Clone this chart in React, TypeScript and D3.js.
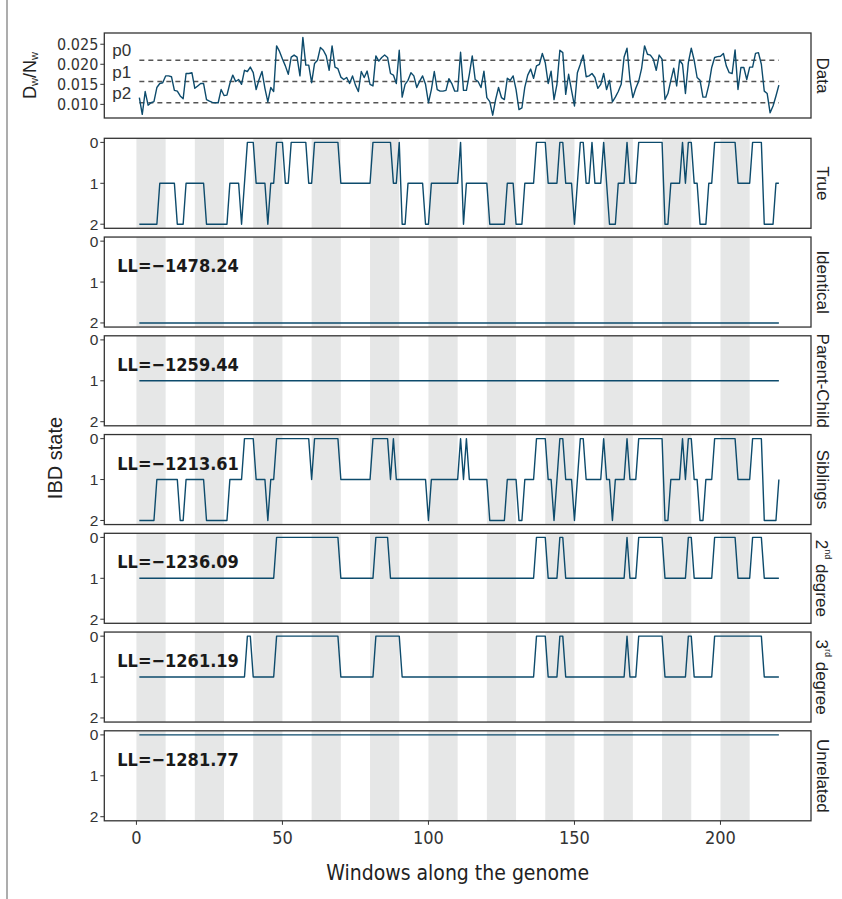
import React from "react";
import * as d3 from "d3";

// ---------- data ----------
const dataValues: number[] = [
  0.0117, 0.0075, 0.0132, 0.0098, 0.0104, 0.0107, 0.0142, 0.0152, 0.0154, 0.0171,
  0.0171, 0.0169, 0.0135, 0.0133, 0.0121, 0.0114, 0.0177, 0.0177, 0.0179, 0.014,
  0.0146, 0.0152, 0.0152, 0.0112, 0.0108, 0.0105, 0.0104, 0.0104, 0.0137, 0.0122,
  0.0123, 0.0152, 0.0173, 0.0157, 0.0162, 0.015, 0.0185, 0.0182, 0.0193, 0.0179,
  0.0137, 0.0162, 0.0182, 0.014, 0.0106, 0.0142, 0.0132, 0.0246, 0.0232, 0.0213,
  0.0196, 0.0175, 0.0218, 0.0223, 0.0218, 0.0171, 0.0267, 0.0198, 0.0198, 0.0154,
  0.0202, 0.021, 0.0242, 0.0235, 0.0221, 0.0185, 0.0246, 0.0193, 0.0189, 0.0168,
  0.0162, 0.0167, 0.0152, 0.0171, 0.0148, 0.0132, 0.0182, 0.0167, 0.0183, 0.015,
  0.0146, 0.0221, 0.0208, 0.0217, 0.0223, 0.0217, 0.0177, 0.0173, 0.0152, 0.0235,
  0.0118, 0.015, 0.016, 0.0179, 0.0171, 0.0142, 0.0158, 0.0171, 0.015, 0.0104,
  0.0137, 0.0182, 0.0137, 0.0133, 0.0133, 0.0135, 0.0164, 0.0152, 0.0133, 0.0133,
  0.023, 0.0135, 0.0135, 0.0175, 0.0221, 0.0162, 0.0157, 0.0142, 0.0183, 0.0117,
  0.0107, 0.0073, 0.0112, 0.0142, 0.0117, 0.0112, 0.0165, 0.016, 0.0171, 0.0137,
  0.0087, 0.0091, 0.0143, 0.0173, 0.0188, 0.0165, 0.0196, 0.02, 0.0227, 0.0204,
  0.0152, 0.0183, 0.0112, 0.015, 0.0235, 0.0229, 0.0125, 0.0175, 0.0135, 0.0096,
  0.0179, 0.02, 0.0223, 0.0169, 0.0171, 0.0177, 0.0167, 0.014, 0.015, 0.0177,
  0.0137, 0.016, 0.0106, 0.0118, 0.0132, 0.015, 0.0218, 0.024, 0.0162, 0.0117,
  0.014, 0.0158, 0.019, 0.0246, 0.0225, 0.0223, 0.0213, 0.0185, 0.0223, 0.0213,
  0.0112, 0.0127, 0.016, 0.019, 0.0146, 0.021, 0.02, 0.0127, 0.0204, 0.024,
  0.021, 0.0167, 0.016, 0.0118, 0.0118, 0.0148, 0.0192, 0.0217, 0.0219, 0.022,
  0.0227, 0.0196, 0.0179, 0.0177, 0.0236, 0.0137, 0.0192, 0.0192, 0.0162, 0.0193,
  0.0193, 0.0227, 0.0229, 0.02, 0.0133, 0.0127, 0.0079, 0.0096, 0.0121, 0.0148,
];

const pLevels = [0.021, 0.0157, 0.0104];
const pLabels = ["p0", "p1", "p2"];
const dataTicks = [0.01, 0.015, 0.02, 0.025];

// IBD states per window (1..220), groups of 10
const trueStates =
  "2222222111 1112221111 1112222222 2111121000 1111211000 1100000011 0000000001 1111111111 0000000110 2211111122 1111111111 0211111111 2222221112 2211110000 1111001112 1001101110 1222111011 1000000000 2211110100 1122211000 0000011111 0000222211";
const identicalStates = "2".repeat(220);
const parentChildStates = "1".repeat(220);
const siblingStates =
  "2222221111 1111221111 1112222222 2111110000 1111211000 0000000001 0000000001 1111111111 0000001011 1111111112 1111111111 0101111111 2222221111 2211110000 1121001112 1001111110 1121111011 1000000000 2211110100 1122111000 0000011111 0000222221";
const secondDegreeStates =
  "1111111111 1111111111 1111111111 1111111111 1111111000 0000000000 0000000001 1111111111 1000001111 1111111111 1111111111 1111111111 1111111111 1111110000 1111001111 1111111111 1111111011 1000000000 1111111100 1111111000 0000011111 0000111111";
const thirdDegreeStates =
  "1111111111 1111111111 1111111111 1111111001 1111111000 0000000000 0000000001 1111111111 1000000000 1111111111 1111111111 1111111111 1111111111 1111110000 1111001111 1111111111 1111111011 1000000000 1111111100 1111111000 0000000000 0000111111";
const unrelatedStates = "0".repeat(220);

const panelNames = ["True", "Identical", "Parent-Child", "Siblings", "2nd degree", "3rd degree", "Unrelated"];
const panelStates = [trueStates, identicalStates, parentChildStates, siblingStates, secondDegreeStates, thirdDegreeStates, unrelatedStates];
const llValues: (number | null)[] = [null, -1478.24, -1259.44, -1213.61, -1236.09, -1261.19, -1281.77];

const bandStarts = [0, 20, 40, 60, 80, 100, 120, 140, 160, 180, 200];
const bandWidth = 10;
const xTicks = [0, 50, 100, 150, 200];
const stateTicks = [0, 1, 2];

// ---------- layout ----------
const W = 842;
const H = 899;
const LEFT = 104.3;
const RIGHT = 811;
const DATA_TOP = 33;
const DATA_BOTTOM = 118;
const IBD_TOP0 = 138.3;
const IBD_STEP = 98.75;
const IBD_H = 90;
const STRIP_X = 822;

const LINE_COLOR = "#0d4b6c";
const BAND_COLOR = "#e6e7e7";
const BORDER = "#333333";
const NARROW = "'Liberation Sans Narrow', 'DejaVu Sans Condensed', 'Liberation Sans', sans-serif";
const SANS = "'Liberation Sans', Arial, sans-serif";

function parseStates(s: string): number[] {
  return s.replace(/\s+/g, "").split("").map((c) => +c);
}

function fmtLL(v: number): string {
  return "LL=\u2212" + Math.abs(v).toFixed(2);
}

export default function App() {
  const x = d3.scaleLinear().domain([-11, 231]).range([LEFT, RIGHT]);
  const yData = d3.scaleLinear().domain([0.0066, 0.0278]).range([DATA_BOTTOM, DATA_TOP]);

  const dataLine = d3
    .line<number>()
    .x((_, i) => x(i + 1))
    .y((d) => yData(d))(dataValues) as string;

  const lastBottom = IBD_TOP0 + (panelNames.length - 1) * IBD_STEP + IBD_H;

  const strip = (name: string, cy: number, key: string) => {
    const m = name.match(/^(\d)(nd|rd) (.*)$/);
    return (
      <text
        key={key}
        transform={`translate(${STRIP_X},${cy}) rotate(90)`}
        textAnchor="middle"
        dominantBaseline="central"
        fontFamily={SANS}
        fontSize={17}
        fill="#222"
      >
        {m ? (
          <>
            <tspan>{m[1]}</tspan>
            <tspan fontSize={9} dy={-6}>{m[2]}</tspan>
            <tspan dy={6}>{" " + m[3]}</tspan>
          </>
        ) : (
          name
        )}
      </text>
    );
  };

  return (
    <svg
      width={W}
      height={H}
      style={{ position: "absolute", left: 0, top: 0, background: "#fff" }}
      xmlns="http://www.w3.org/2000/svg"
    >
      <rect x={0} y={0} width={W} height={H} fill="#fff" />
      <line x1={7} x2={7} y1={0} y2={H} stroke="#8a8a8a" strokeWidth={1.4} />

      {/* Data panel */}
      <g>
        <rect x={LEFT} y={DATA_TOP} width={RIGHT - LEFT} height={DATA_BOTTOM - DATA_TOP} fill="#fff" />
        {pLevels.map((p, i) => (
          <g key={"p" + i}>
            <line
              x1={x(1)}
              x2={x(220)}
              y1={yData(p)}
              y2={yData(p)}
              stroke="#555"
              strokeWidth={1.5}
              strokeDasharray="5,4"
            />
            <text x={LEFT + 8} y={yData(p) - 4} fontFamily={SANS} fontSize={17} fill="#333">
              {pLabels[i]}
            </text>
          </g>
        ))}
        <path d={dataLine} fill="none" stroke={LINE_COLOR} strokeWidth={1.4} strokeLinejoin="round" />
        <rect
          x={LEFT}
          y={DATA_TOP}
          width={RIGHT - LEFT}
          height={DATA_BOTTOM - DATA_TOP}
          fill="none"
          stroke={BORDER}
          strokeWidth={1.3}
        />
        {dataTicks.map((t) => (
          <g key={"dt" + t}>
            <line x1={LEFT - 4} x2={LEFT} y1={yData(t)} y2={yData(t)} stroke="#333" strokeWidth={1} />
            <text
              x={LEFT - 6}
              y={yData(t)}
              textAnchor="end"
              dominantBaseline="central"
              fontFamily={NARROW}
              fontSize={16}
              fill="#333"
            >
              {t.toFixed(3)}
            </text>
          </g>
        ))}
        <text
          transform={`translate(30,${(DATA_TOP + DATA_BOTTOM) / 2}) rotate(-90)`}
          textAnchor="middle"
          dominantBaseline="central"
          fontFamily={SANS}
          fontSize={18}
          fill="#222"
        >
          <tspan>D</tspan>
          <tspan fontSize={11} dy={4}>w</tspan>
          <tspan dy={-4}>/N</tspan>
          <tspan fontSize={11} dy={4}>w</tspan>
        </text>
        {strip("Data", (DATA_TOP + DATA_BOTTOM) / 2, "s-data")}
      </g>

      {/* IBD panels */}
      {panelNames.map((name, pi) => {
        const top = IBD_TOP0 + pi * IBD_STEP;
        const y = d3.scaleLinear().domain([-0.1, 2.1]).range([top, top + IBD_H]);
        const states = parseStates(panelStates[pi]);
        const path = d3
          .line<number>()
          .x((_, i) => x(i + 1))
          .y((d) => y(d))(states) as string;
        const ll = llValues[pi];
        return (
          <g key={name}>
            <rect x={LEFT} y={top} width={RIGHT - LEFT} height={IBD_H} fill="#fff" />
            {bandStarts.map((b) => (
              <rect
                key={"b" + b}
                x={x(b)}
                y={top}
                width={x(b + bandWidth) - x(b)}
                height={IBD_H}
                fill={BAND_COLOR}
              />
            ))}
            <path d={path} fill="none" stroke={LINE_COLOR} strokeWidth={1.4} strokeLinejoin="round" />
            {ll !== null && (
              <text
                x={LEFT + 13}
                y={y(0.6)}
                dominantBaseline="central"
                fontFamily={NARROW}
                fontWeight="bold"
                fontSize={18}
                fill="#1a1a1a"
              >
                {fmtLL(ll)}
              </text>
            )}
            <rect x={LEFT} y={top} width={RIGHT - LEFT} height={IBD_H} fill="none" stroke={BORDER} strokeWidth={1.3} />
            {stateTicks.map((t) => (
              <g key={"st" + t}>
                <line x1={LEFT - 4} x2={LEFT} y1={y(t)} y2={y(t)} stroke="#333" strokeWidth={1} />
                <text
                  x={LEFT - 6}
                  y={y(t)}
                  textAnchor="end"
                  dominantBaseline="central"
                  fontFamily={SANS}
                  fontSize={15.5}
                  fill="#333"
                >
                  {t}
                </text>
              </g>
            ))}
            {strip(name, top + IBD_H / 2, "s" + pi)}
          </g>
        );
      })}

      {/* x axis */}
      {xTicks.map((t) => (
        <g key={"xt" + t}>
          <line x1={x(t)} x2={x(t)} y1={lastBottom} y2={lastBottom + 4} stroke="#333" strokeWidth={1} />
          <text
            x={x(t)}
            y={lastBottom + 17}
            textAnchor="middle"
            dominantBaseline="central"
            fontFamily={NARROW}
            fontSize={18}
            fill="#333"
          >
            {t}
          </text>
        </g>
      ))}
      <text
        x={(LEFT + RIGHT) / 2}
        y={873}
        textAnchor="middle"
        dominantBaseline="central"
        fontFamily={NARROW}
        fontSize={21}
        fill="#222"
      >
        Windows along the genome
      </text>
      <text
        transform={`translate(55,458) rotate(-90)`}
        textAnchor="middle"
        dominantBaseline="central"
        fontFamily={SANS}
        fontSize={20}
        fill="#222"
      >
        IBD state
      </text>
    </svg>
  );
}
